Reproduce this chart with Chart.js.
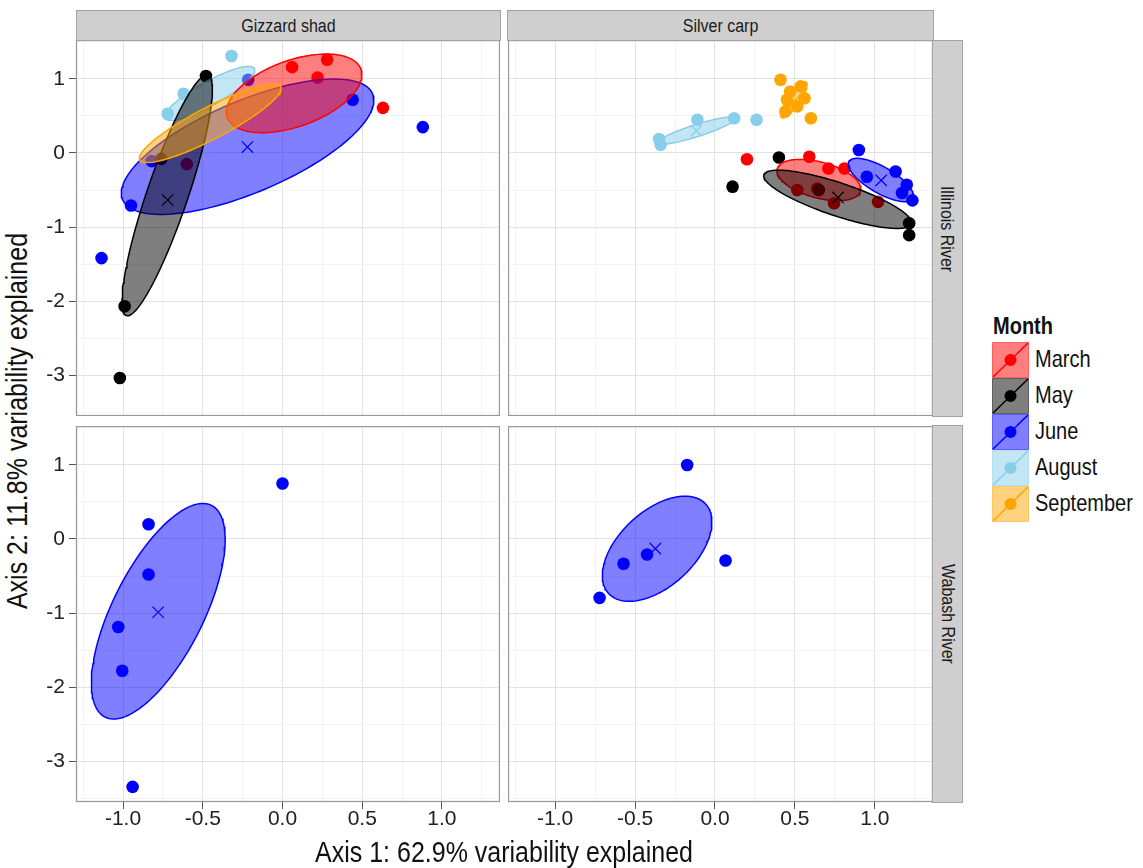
<!DOCTYPE html>
<html><head><meta charset="utf-8">
<script src="https://cdn.jsdelivr.net/npm/chart.js@4.4.1/dist/chart.umd.min.js"></script>
<style>
html,body{margin:0;padding:0;background:#fff;}
body{width:1143px;height:868px;position:relative;overflow:hidden;font-family:'Liberation Sans',Arial,sans-serif;color:#1a1a1a;}
canvas.c{position:absolute;}
.strip{position:absolute;background:#cfcfcf;border:1px solid #a3a3a3;box-sizing:border-box;color:#1a1a1a;font-size:16px;display:flex;align-items:center;justify-content:center;white-space:nowrap;}
.htext{transform:scaleY(1.15);}
.vtext{transform:rotate(90deg) scaleY(1.15);}
.title{position:absolute;font-size:25px;white-space:nowrap;color:#111;}
.leg{position:absolute;font-size:20px;white-space:nowrap;color:#111;transform:scaleY(1.18);transform-origin:left center;}
</style>
</head><body>
<canvas id="tl" class="c"></canvas>
<canvas id="tr" class="c"></canvas>
<canvas id="bl" class="c"></canvas>
<canvas id="br" class="c"></canvas>

<div class="strip" style="left:76px;top:10px;width:425px;height:31px;"><div class="htext">Gizzard shad</div></div>
<div class="strip" style="left:507px;top:10px;width:427px;height:31px;"><div class="htext">Silver carp</div></div>
<div class="strip" style="left:932px;top:40px;width:31px;height:377px;"><div class="vtext">Illinois River</div></div>
<div class="strip" style="left:932px;top:425px;width:31px;height:378px;"><div class="vtext">Wabash River</div></div>

<div class="title" style="left:504px;top:852px;transform:translate(-50%,-50%) scaleY(1.15);">Axis 1: 62.9% variability explained</div>
<div class="title" style="left:17px;top:421px;transform:translate(-50%,-50%) rotate(-90deg) scaleY(1.15);">Axis 2: 11.8% variability explained</div>

<div id="legend"></div>

<script>
// ---------- tick / range data ----------
const xMajorTicks = [-1.0, -0.5, 0.0, 0.5, 1.0];
const xMinorTicks = [-1.25, -0.75, -0.25, 0.25, 0.75, 1.25];
const yMajorTicks = [1, 0, -1, -2, -3];
const yMinorTicks = [1.5, 0.5, -0.5, -1.5, -2.5, -3.5];
const xLimits = [-1.295, 1.364];
const yLimits = [-3.554, 1.527];

// ---------- groups ----------
const months = ['March', 'May', 'June', 'August', 'September'];
const monthColors = ['#FF0000', '#000000', '#0000FF', '#87CEEB', '#FFA500'];
const monthFills = ['rgba(255,0,0,0.5)', 'rgba(0,0,0,0.5)', 'rgba(0,0,255,0.5)', 'rgba(135,206,235,0.5)', 'rgba(255,165,0,0.5)'];
// layer drawing rank (alphabetical level order: August, June, March, May, September)
const drawRank = [2, 3, 1, 0, 4];

// ---------- Gizzard shad / Illinois River ----------
const gsIlMarch = [[0.06,1.16],[0.28,1.26],[0.22,1.02],[0.63,0.61],[-0.60,-0.15]];
const gsIlMay = [[-0.48,1.04],[-0.76,-0.08],[-0.99,-2.07],[-1.02,-3.04]];
const gsIlJune = [[0.44,0.72],[0.88,0.35],[-0.215,0.99],[-0.82,-0.11],[-0.95,-0.71],[-1.135,-1.42]];
const gsIlAugust = [[-0.32,1.31],[-0.72,0.53],[-0.62,0.80]];
const gsIlSeptember = [];
// ellipse: centre x,y, major-axis tip x,y, minor-axis tip x,y
const gsIlEllipses = [
  [0.073,0.806, 0.492,1.132, 0.144,0.386],
  [-0.723,-0.572, -0.467,1.054, -0.601,-0.661],
  [-0.219,0.085, 0.565,0.80, -0.107,-0.486],
  [-0.456,0.806, -0.176,1.142, -0.419,0.665],
  [-0.453,0.401, -0.011,0.896, -0.407,0.209]
];
const gsIlCentroids = [null, [-0.72,-0.635], [-0.22,0.08], null, null];

// ---------- Silver carp / Illinois River ----------
const scIlMarch = [[0.20,-0.085],[0.59,-0.05],[0.81,-0.21],[0.515,-0.50],[0.64,-0.48],[0.745,-0.68],[1.02,-0.66],[0.71,-0.21]];
const scIlMay = [[0.40,-0.06],[0.11,-0.455],[0.65,-0.50],[1.215,-0.95],[1.215,-1.11]];
const scIlJune = [[0.90,0.04],[1.13,-0.25],[1.20,-0.43],[1.235,-0.64],[0.95,-0.32],[1.17,-0.54]];
const scIlAugust = [[-0.34,0.11],[-0.35,0.19],[-0.11,0.45],[0.12,0.47],[0.26,0.45]];
const scIlSeptember = [[0.41,0.99],[0.536,0.90],[0.47,0.83],[0.515,0.63],[0.44,0.56],[0.60,0.47],[0.56,0.74],[0.45,0.72]];
const scIlEllipses = [
  [0.65,-0.365, 0.911,-0.515, 0.621,-0.60],
  [0.768,-0.626, 1.23,-0.958, 0.735,-0.838],
  [1.038,-0.365, 1.238,-0.615, 0.997,-0.518],
  [-0.116,0.302, 0.129,0.47, -0.105,0.224],
  [0.494,0.72, 0.57,0.96, 0.525,0.674]
];
const scIlCentroids = [null, [0.77,-0.60], [1.04,-0.37], [-0.116,0.302], [0.49,0.69]];

// ---------- Gizzard shad / Wabash River (June only) ----------
const gsWaJune = [[0.0,0.75],[-0.84,0.20],[-0.84,-0.48],[-1.03,-1.19],[-1.005,-1.78],[-0.94,-3.35]];
const gsWaEllipse = [-0.779,-0.976, -0.445,0.454, -0.525,-1.253];
const gsWaCentroid = [-0.78,-0.99];

// ---------- Silver carp / Wabash River (June only) ----------
const scWaJune = [[-0.174,1.0],[0.066,-0.29],[-0.572,-0.335],[-0.425,-0.21],[-0.722,-0.795]];
const scWaEllipse = [-0.362,-0.132, -0.06,0.476, -0.2,-0.5];
const scWaCentroid = [-0.373,-0.13];

// ---------- helpers ----------
const FONT = "'Liberation Sans', Arial, sans-serif";
const near = (v, arr) => arr.some(m => Math.abs(m - v) < 1e-6);
function ellipseOutline(e) {
  const [cx, cy, mx, my, nx, ny] = e;
  const out = [];
  const N = 144;
  for (let i = 0; i <= N; i++) {
    const t = 2 * Math.PI * i / N;
    out.push({x: cx + (mx - cx) * Math.cos(t) + (nx - cx) * Math.sin(t),
              y: cy + (my - cy) * Math.cos(t) + (ny - cy) * Math.sin(t)});
  }
  return out;
}
const toXY = arr => arr.map(([x, y]) => ({x, y}));

const borderPlugin = {
  id: 'panelBorder',
  afterDraw(chart) {
    const a = chart.chartArea, c = chart.ctx;
    c.save();
    c.strokeStyle = '#9a9a9a';
    c.lineWidth = 1.3;
    c.strokeRect(a.left + 0.5, a.top + 0.5, a.right - a.left - 1, a.bottom - a.top - 1);
    c.restore();
  }
};

function makePanel(p) {
  const cv = document.getElementById(p.id);
  cv.width = p.w; cv.height = p.h;
  cv.style.left = p.left + 'px'; cv.style.top = p.top + 'px';
  const datasets = [];
  for (let g = 0; g < months.length; g++) {
    const r = drawRank[g];
    if (p.points[g] && p.points[g].length) {
      datasets.push({type: 'scatter', label: months[g] + ' pts', data: toXY(p.points[g]),
        backgroundColor: monthColors[g], borderColor: monthColors[g], borderWidth: 0,
        pointRadius: 6.3, order: 20 - r});
    }
    if (p.ellipses[g]) {
      datasets.push({type: 'line', label: months[g] + ' ellipse', data: ellipseOutline(p.ellipses[g]),
        borderColor: monthColors[g], backgroundColor: monthFills[g], borderWidth: 1.5,
        pointRadius: 0, tension: 0, fill: 'shape', order: 10 - r});
    }
    if (p.centroids[g]) {
      datasets.push({type: 'scatter', label: months[g] + ' centroid', data: toXY([p.centroids[g]]),
        pointStyle: 'crossRot', pointRadius: 8, borderColor: monthColors[g], borderWidth: 1.2,
        backgroundColor: 'rgba(0,0,0,0)', order: 1});
    }
  }
  const xGrid = xMajorTicks.concat(xMinorTicks).sort((a, b) => a - b);
  const yGrid = yMajorTicks.concat(yMinorTicks).sort((a, b) => a - b);
  new Chart(cv, {
    type: 'scatter',
    data: {datasets},
    options: {
      responsive: false, animation: false, events: [],
      layout: {padding: 0, autoPadding: false},
      plugins: {legend: {display: false}, tooltip: {enabled: false}},
      scales: {
        x: {
          type: 'linear', position: 'bottom', min: xLimits[0], max: xLimits[1],
          afterBuildTicks: s => { s.ticks = xGrid.map(v => ({value: v})); },
          afterFit: s => { s.height = p.showX ? 40 : 0; s.paddingLeft = 0; s.paddingRight = 0; s.paddingTop = 0; s.paddingBottom = 0; },
          ticks: {display: p.showX, autoSkip: false, maxRotation: 0, minRotation: 0, padding: 0,
            color: '#222', font: {family: FONT, size: 21, lineHeight: 1},
            callback: v => near(v, xMajorTicks) ? v.toFixed(1) : ''},
          grid: {drawTicks: p.showX, tickLength: 7, lineWidth: 1,
            color: c => (c.tick && near(c.tick.value, xMajorTicks)) ? '#e2e2e2' : '#f3f3f3',
            tickColor: c => (c.tick && near(c.tick.value, xMajorTicks)) ? '#555' : 'rgba(0,0,0,0)'},
          border: {display: false}
        },
        y: {
          type: 'linear', position: 'left', min: yLimits[0], max: yLimits[1],
          afterBuildTicks: s => { s.ticks = yGrid.map(v => ({value: v})); },
          afterFit: s => { s.width = p.showY ? 40 : 0; s.paddingLeft = 0; s.paddingRight = 0; s.paddingTop = 0; s.paddingBottom = 0; },
          ticks: {display: p.showY, autoSkip: false, padding: 4,
            color: '#222', font: {family: FONT, size: 21, lineHeight: 1},
            callback: v => near(v, yMajorTicks) ? String(v) : ''},
          grid: {drawTicks: p.showY, tickLength: 7, lineWidth: 1,
            color: c => (c.tick && near(c.tick.value, yMajorTicks)) ? '#e2e2e2' : '#f3f3f3',
            tickColor: c => (c.tick && near(c.tick.value, yMajorTicks)) ? '#555' : 'rgba(0,0,0,0)'},
          border: {display: false}
        }
      }
    },
    plugins: [borderPlugin]
  });
}

makePanel({id: 'tl', left: 36, top: 40, w: 464, h: 376, showX: false, showY: true,
  points: [gsIlMarch, gsIlMay, gsIlJune, gsIlAugust, gsIlSeptember],
  ellipses: gsIlEllipses, centroids: gsIlCentroids});
makePanel({id: 'tr', left: 508, top: 40, w: 425, h: 376, showX: false, showY: false,
  points: [scIlMarch, scIlMay, scIlJune, scIlAugust, scIlSeptember],
  ellipses: scIlEllipses, centroids: scIlCentroids});
makePanel({id: 'bl', left: 36, top: 426, w: 464, h: 416, showX: true, showY: true,
  points: [null, null, gsWaJune, null, null],
  ellipses: [null, null, gsWaEllipse, null, null], centroids: [null, null, gsWaCentroid, null, null]});
makePanel({id: 'br', left: 508, top: 426, w: 425, h: 416, showX: true, showY: false,
  points: [null, null, scWaJune, null, null],
  ellipses: [null, null, scWaEllipse, null, null], centroids: [null, null, scWaCentroid, null, null]});

// ---------- legend ----------
const legendEl = document.getElementById('legend');
let html = '<div class="leg" style="left:993px;top:315px;font-weight:bold;">Month</div>';
const keyTop = 342, keyH = 36, keyW = 37, keyLeft = 992;
months.forEach((m, i) => {
  const top = keyTop + i * keyH;
  html += `<svg style="position:absolute;left:${keyLeft}px;top:${top}px;" width="${keyW}" height="${keyH}">
    <rect x="0.5" y="0.5" width="${keyW - 1}" height="${keyH - 1}" fill="${monthFills[i]}" stroke="${monthFills[i]}" stroke-width="1"/>
    <line x1="1" y1="${keyH - 1}" x2="${keyW - 1}" y2="1" stroke="${monthColors[i]}" stroke-width="1.5"/>
    <circle cx="${keyW / 2}" cy="${keyH / 2}" r="6" fill="${monthColors[i]}"/>
  </svg>`;
  html += `<div class="leg" style="left:1035px;top:${top + keyH / 2 - 12}px;">${m}</div>`;
});
legendEl.innerHTML = html;
</script>
</body></html>
